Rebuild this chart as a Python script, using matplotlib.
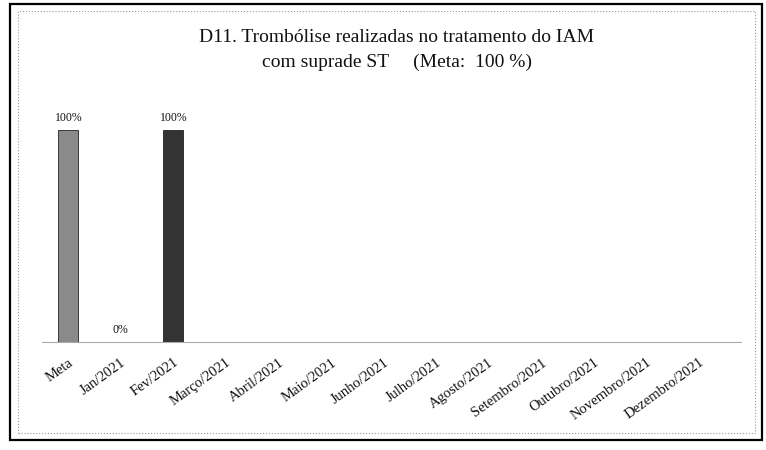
import matplotlib.pyplot as plt
import matplotlib.transforms as mtransforms
from matplotlib.patches import Rectangle

categorias = ["Meta", "Jan/2021", "Fev/2021", "Março/2021", "Abril/2021", "Maio/2021",
              "Junho/2021", "Julho/2021", "Agosto/2021", "Setembro/2021", "Outubro/2021",
              "Novembro/2021", "Dezembro/2021"]
valores = [1.0, 0.0, 1.0, None, None, None, None, None, None, None, None, None, None]
rotulos = ["100%", "0%", "100%"]
cores = ["#8a8a8a", "#6a6a6a", "#333333"]

plt.rcParams["font.family"] = ["Liberation Serif", "DejaVu Serif"]

W, H = 766, 450
fig = plt.figure(figsize=(W / 100, H / 100), dpi=100)

# moldura
fig.patches.append(Rectangle((10 / W, 1 - 440 / H), 752 / W, 436 / H, transform=fig.transFigure,
                             fill=False, edgecolor="black", linewidth=1.6))
fig.patches.append(Rectangle((18 / W, 1 - 433 / H), 737 / W, 422 / H, transform=fig.transFigure,
                             fill=False, edgecolor="#999999", linewidth=0.8, linestyle=":"))

ax = fig.add_axes([42 / W, 1 - 342 / H, 683 / W, 233 / H])
ax.set_xlim(-0.5, len(categorias) - 0.5)
ax.set_ylim(0, 1.1)

for i, v in enumerate(valores):
    if v is None:
        continue
    ax.bar(i, v, width=0.38, color=cores[i], edgecolor="#222222", linewidth=0.6)
    ax.text(i, v + 0.03, rotulos[i], ha="center", va="bottom", fontsize=8.5, color="#111111")

ax.set_xticks(range(len(categorias)))
ax.set_xticklabels(categorias, rotation=36, ha="right", va="top", rotation_mode="anchor",
                   fontsize=10.5, color="#111111")
desloc = mtransforms.ScaledTranslation(8 / 100, 0, fig.dpi_scale_trans)
for lab in ax.get_xticklabels():
    lab.set_transform(lab.get_transform() + desloc)
ax.tick_params(axis="x", length=0, pad=10)
ax.set_yticks([])
for s in ["left", "right", "top"]:
    ax.spines[s].set_visible(False)
ax.spines["bottom"].set_color("#aaaaaa")
ax.spines["bottom"].set_bounds(-0.5, 12.8)

fig.text(397 / W, 1 - 38 / H, "D11. Trombólise realizadas no tratamento do IAM",
         ha="center", va="center", fontsize=14, color="#111111")
fig.text(397 / W, 1 - 62 / H, "com suprade ST     (Meta:  100 %)",
         ha="center", va="center", fontsize=14, color="#111111")

fig.savefig("out.png", dpi=100)
